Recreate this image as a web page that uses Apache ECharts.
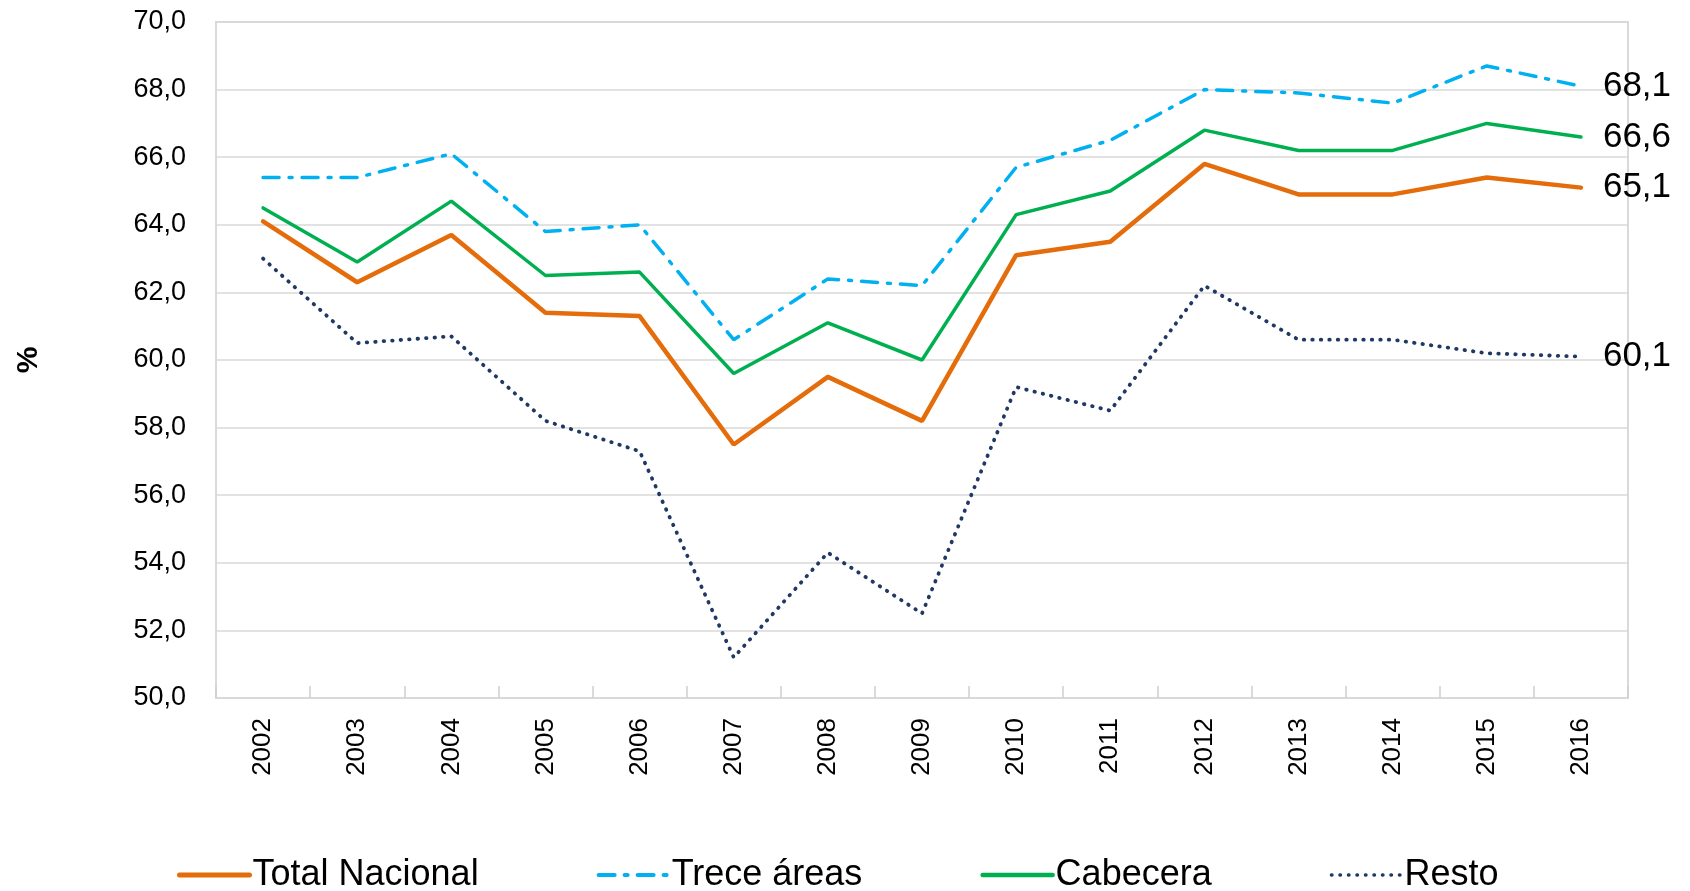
<!DOCTYPE html>
<html>
<head>
<meta charset="utf-8">
<script src="https://cdn.jsdelivr.net/npm/echarts@6/dist/echarts.min.js"></script>
<style>
html, body { margin: 0; padding: 0; background: #fff; }
#chart { width: 1690px; height: 891px; }
</style>
</head>
<body>
<div id="chart"></div>
<script>
var years = ['2002','2003','2004','2005','2006','2007','2008','2009','2010','2011','2012','2013','2014','2015','2016'];
var totalNacional = [64.1, 62.3, 63.7, 61.4, 61.3, 57.5, 59.5, 58.2, 63.1, 63.5, 65.8, 64.9, 64.9, 65.4, 65.1];
var treceAreas    = [65.4, 65.4, 66.1, 63.8, 64.0, 60.6, 62.4, 62.2, 65.7, 66.5, 68.0, 67.9, 67.6, 68.7, 68.1];
var cabecera      = [64.5, 62.9, 64.7, 62.5, 62.6, 59.6, 61.1, 60.0, 64.3, 65.0, 66.8, 66.2, 66.2, 67.0, 66.6];
var resto         = [63.0, 60.5, 60.7, 58.2, 57.3, 51.2, 54.3, 52.5, 59.2, 58.5, 62.2, 60.6, 60.6, 60.2, 60.1];

var font = 'Liberation Sans';
function fmt(v) { return v.toFixed(1).replace('.', ','); }

var chart = echarts.init(document.getElementById('chart'));

function makeSeries(name, data, color, width, type) {
    return {
        name: name,
        type: 'line',
        data: data,
        symbol: 'none',
        lineStyle: { color: color, width: width, type: type, cap: 'round' },
        itemStyle: { color: color },
        endLabel: {
            show: true,
            distance: 22,
            color: '#000',
            fontFamily: font,
            fontSize: 35,
            formatter: function (p) { return fmt(p.value); }
        },
        animation: false
    };
}

var opt = {
    textStyle: { fontFamily: font },
    grid: {
        left: 216, right: 62, top: 22, bottom: 193,
        show: true, borderColor: '#d9d9d9', borderWidth: 2
    },
    legend: {
        top: 852,
        left: 172,
        itemWidth: 70,
        itemHeight: 14,
        itemGap: 118,
        itemStyle: { opacity: 0 },
        textStyle: { fontSize: 36, color: '#000', fontFamily: font, padding: [0, 0, 0, -2] },
        data: [
            { name: 'Total Nacional', lineStyle: { width: 5 } },
            { name: 'Trece áreas', lineStyle: { width: 4 } },
            { name: 'Cabecera', lineStyle: { width: 4.5 } },
            { name: 'Resto', lineStyle: { width: 3.5 } }
        ]
    },
    xAxis: {
        type: 'category',
        data: years,
        boundaryGap: true,
        axisLine: { lineStyle: { color: '#d9d9d9', width: 2 } },
        axisTick: { show: true, inside: true, length: 12, lineStyle: { color: '#cfcfcf', width: 1.5 } },
        axisLabel: { rotate: 90, margin: 20, color: '#000', fontSize: 26, fontFamily: font }
    },
    yAxis: {
        type: 'value',
        min: 50, max: 70, interval: 2,
        name: '%',
        nameLocation: 'middle',
        nameGap: 172,
        nameRotate: 90,
        nameTextStyle: { fontSize: 30, fontWeight: 'bold', color: '#000', fontFamily: font },
        axisLine: { show: true, lineStyle: { color: '#d9d9d9', width: 2 } },
        splitLine: { lineStyle: { color: '#d9d9d9', width: 1.5 } },
        axisLabel: { margin: 30, color: '#000', fontSize: 27, fontFamily: font, formatter: fmt }
    },
    series: [
        makeSeries('Total Nacional', totalNacional, '#e46c0a', 4.5, 'solid'),
        makeSeries('Trece áreas', treceAreas, '#00b0f0', 3.5, [16, 10, 3, 10]),
        makeSeries('Cabecera', cabecera, '#00b050', 3.5, 'solid'),
        makeSeries('Resto', resto, '#1f3864', 3.8, [0.5, 8])
    ]
};
chart.setOption(opt, true);
</script>
</body>
</html>
